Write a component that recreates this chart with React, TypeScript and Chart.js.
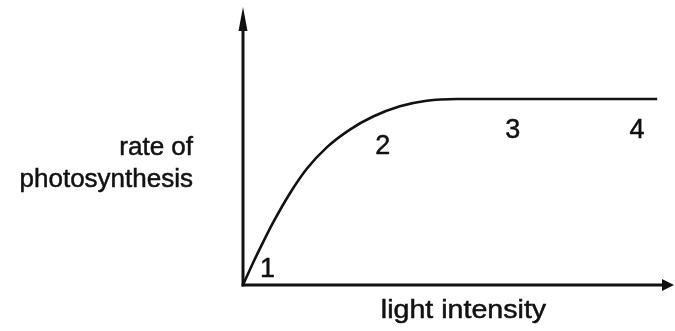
import React, { useEffect, useRef } from "react";
import { Chart, registerables } from "chart.js";

Chart.register(...registerables);

// Curve (light intensity vs rate of photosynthesis)
const curveX = [0, 2.4, 4.7, 7.0, 10.9, 14.8, 19.5, 24.8, 30.2, 36.4, 42.6, 49.6, 59.6, 96.1];
const curveY = [0, 8.2, 15.5, 22.5, 33.0, 41.8, 49.6, 55.9, 60.6, 64.3, 66.3, 66.9, 66.9, 66.9];

// Numbered point labels
const markLabels = ["1", "2", "3", "4"];
const markX = [5.7, 32.4, 62.6, 91.4];
const markY = [2.9, 47.1, 52.9, 52.9];

const yTitleLines = ["rate of", "photosynthesis"];
const xTitle = "light intensity";

const FONT = "'Liberation Sans', Arial, sans-serif";
const INK = "#111111";

const diagramPlugin = {
  id: "diagram",
  afterDatasetsDraw(chart: any) {
    const { ctx, chartArea, scales } = chart;
    const xs = scales.x;
    const ys = scales.y;
    const x0 = xs.getPixelForValue(0);
    const y0 = ys.getPixelForValue(0);
    const right = chartArea.right;
    const top = chartArea.top;
    ctx.save();
    ctx.strokeStyle = INK;
    ctx.fillStyle = INK;
    ctx.lineWidth = 3;
    ctx.lineCap = "butt";
    // y axis
    ctx.beginPath();
    ctx.moveTo(x0, y0 + 1.5);
    ctx.lineTo(x0, top + 20);
    ctx.stroke();
    ctx.beginPath();
    ctx.moveTo(x0, top);
    ctx.lineTo(x0 + 4.5, top + 24);
    ctx.lineTo(x0 - 4.5, top + 24);
    ctx.closePath();
    ctx.fill();
    // x axis
    ctx.beginPath();
    ctx.moveTo(x0 - 1.5, y0);
    ctx.lineTo(right - 10, y0);
    ctx.stroke();
    ctx.beginPath();
    ctx.moveTo(right, y0);
    ctx.lineTo(right - 12, y0 - 6);
    ctx.lineTo(right - 12, y0 + 6);
    ctx.closePath();
    ctx.fill();

    const drawText = (t: string, x: number, y: number) => {
      ctx.fillText(t, x, y);
      ctx.lineWidth = 0.5;
      ctx.strokeText(t, x, y);
    };

    // number labels
    ctx.font = `27px ${FONT}`;
    ctx.textAlign = "center";
    ctx.textBaseline = "alphabetic";
    markLabels.forEach((t, i) => {
      drawText(t, xs.getPixelForValue(markX[i]), ys.getPixelForValue(markY[i]));
    });

    // y title (right aligned, left of axis)
    ctx.font = `26px ${FONT}`;
    ctx.textAlign = "right";
    drawText(yTitleLines[0], x0 - 50, top + 148);
    drawText(yTitleLines[1], x0 - 50, top + 180);

    // x title, slightly widened like the scan
    ctx.font = `26px ${FONT}`;
    ctx.textAlign = "center";
    ctx.save();
    ctx.translate((x0 + right) / 2 + 5, y0 + 33);
    ctx.scale(1.1, 1);
    drawText(xTitle, 0, 0);
    ctx.restore();
    ctx.restore();
  },
};

export default function App() {
  const ref = useRef<HTMLCanvasElement | null>(null);
  useEffect(() => {
    document.body.style.margin = "0";
    document.body.style.background = "#ffffff";
    if (!ref.current) return;
    const chart = new Chart(ref.current, {
      type: "scatter",
      data: {
        datasets: [
          {
            data: curveX.map((x, i) => ({ x, y: curveY[i] })),
            showLine: true,
            borderColor: INK,
            borderWidth: 2.6,
            pointRadius: 0,
            cubicInterpolationMode: "monotone",
            fill: false,
          },
        ],
      },
      options: {
        responsive: false,
        animation: false,
        layout: { padding: { left: 243, right: 1, top: 7, bottom: 46 } },
        plugins: { legend: { display: false }, tooltip: { enabled: false } },
        scales: {
          x: { type: "linear", min: 0, max: 100, display: false },
          y: { type: "linear", min: 0, max: 100, display: false },
        },
      },
      plugins: [diagramPlugin],
    });
    return () => chart.destroy();
  }, []);
  return (
    <div style={{ width: 675, height: 331, background: "#fff" }}>
      <canvas ref={ref} width={675} height={331} />
    </div>
  );
}
